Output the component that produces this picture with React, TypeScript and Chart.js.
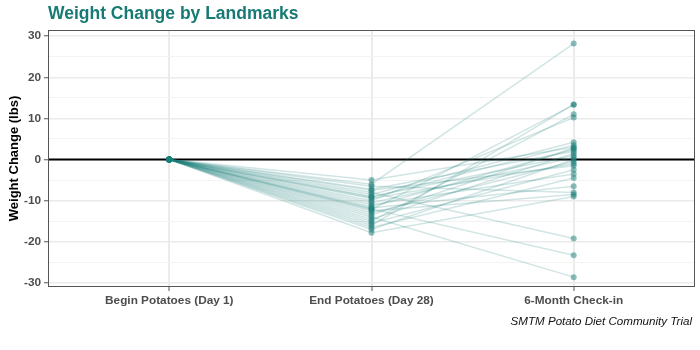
import React, { useEffect, useRef } from "react";
import { Chart, registerables } from "chart.js";

Chart.register(...registerables);

const title = "Weight Change by Landmarks";
const caption = "SMTM Potato Diet Community Trial";
const yAxisTitle = "Weight Change (lbs)";
const landmarks = ["Begin Potatoes (Day 1)", "End Potatoes (Day 28)", "6-Month Check-in"];
const yMajorTicks = [-30, -20, -10, 0, 10, 20, 30];
const yMinorTicks = [-25, -15, -5, 5, 15, 25];

const beginValues = [0, 0, 0, 0, 0, 0, 0, 0, 0, 0, 0, 0, 0, 0, 0, 0, 0, 0, 0, 0, 0, 0, 0, 0, 0, 0, 0, 0];
const endValues = [-5.0, -6.0, -6.5, -7.2, -8.0, -8.5, -9.0, -9.5, -10.0, -10.5, -11.0, -11.5, -12.0, -12.2, -12.5, -13.0, -14.0, -14.5, -15.0, -15.5, -16.0, -16.5, -17.0, -17.8, -11.8, -9.2, -7.5, -13.5];
const sixMonthValues = [3.0, 28.2, -8.0, 2.0, -19.2, 4.2, 1.0, -1.0, 10.2, 0.5, -3.5, 2.5, -23.3, 13.3, -8.5, -0.5, -28.6, 1.5, 11.0, -2.5, 13.4, -4.5, 0.0, -9.0, -6.5, 3.5, -1.5, 2.8];

const TEAL = "27,127,122";
const FONT = "'Liberation Sans', Arial, sans-serif";

export default function App() {
  const ref = useRef<HTMLCanvasElement | null>(null);

  useEffect(() => {
    if (!ref.current) return;
    document.body.style.margin = "0";

    const lineSets = endValues.map((e, i) => ({
      type: "line" as const,
      data: [
        { x: 0, y: beginValues[i] },
        { x: 1, y: e },
        { x: 2, y: sixMonthValues[i] },
      ],
      borderColor: `rgba(${TEAL},0.2)`,
      borderWidth: 1.5,
      pointRadius: 0,
      fill: false,
      tension: 0,
      order: 2,
    }));

    const points: { x: number; y: number }[] = [];
    endValues.forEach((e, i) => {
      points.push({ x: 0, y: beginValues[i] });
      points.push({ x: 1, y: e });
      points.push({ x: 2, y: sixMonthValues[i] });
    });

    const decor = {
      id: "decor",
      beforeDatasetsDraw(chart: any) {
        const { ctx, chartArea, scales } = chart;
        const y0 = scales.y.getPixelForValue(0);
        ctx.save();
        ctx.strokeStyle = "#000";
        ctx.lineWidth = 2;
        ctx.beginPath();
        ctx.moveTo(chartArea.left, y0);
        ctx.lineTo(chartArea.right, y0);
        ctx.stroke();
        ctx.restore();
      },
      afterDraw(chart: any) {
        const { ctx, chartArea } = chart;
        ctx.save();
        ctx.strokeStyle = "#555555";
        ctx.lineWidth = 1;
        ctx.strokeRect(chartArea.left + 0.5, chartArea.top + 0.5, chartArea.right - chartArea.left - 1, chartArea.bottom - chartArea.top - 1);
        ctx.fillStyle = "#177a74";
        ctx.font = `bold 17.5px ${FONT}`;
        ctx.textAlign = "left";
        ctx.textBaseline = "middle";
        ctx.fillText(title, chartArea.left, 14);
        ctx.fillStyle = "#111";
        ctx.font = `italic 11.6px ${FONT}`;
        ctx.textAlign = "right";
        ctx.fillText(caption, 692, 322);
        ctx.save();
        ctx.fillStyle = "#000";
        ctx.font = `bold 13px ${FONT}`;
        ctx.textAlign = "center";
        ctx.translate(14, (chartArea.top + chartArea.bottom) / 2);
        ctx.rotate(-Math.PI / 2);
        ctx.fillText(yAxisTitle, 0, 0);
        ctx.restore();
        ctx.restore();
      },
    };

    const chart = new Chart(ref.current, {
      type: "scatter",
      data: {
        datasets: [
          {
            type: "scatter" as const,
            data: points,
            backgroundColor: `rgba(${TEAL},0.5)`,
            borderColor: `rgba(${TEAL},0.5)`,
            borderWidth: 0,
            pointRadius: 3,
            order: 0,
          } as any,
          ...lineSets,
        ],
      },
      options: {
        animation: false,
        responsive: false,
        layout: { padding: { left: 0, right: 5, top: 30, bottom: 0 } },
        plugins: { legend: { display: false }, tooltip: { enabled: false }, title: { display: false } },
        scales: {
          x: {
            type: "linear",
            min: -0.6,
            max: 2.6,
            afterBuildTicks: (s: any) => {
              s.ticks = landmarks.map((_, i) => ({ value: i }));
            },
            afterFit: (s: any) => {
              s.height = 63;
            },
            ticks: {
              callback: (v: any) => landmarks[v as number] ?? "",
              color: "#4d4d4d",
              font: { family: FONT, size: 11.8, weight: "bold" },
              padding: 3,
              maxRotation: 0,
              autoSkip: false,
            },
            grid: {
              color: "#ebebeb",
              lineWidth: 2,
              tickLength: 4,
              tickColor: "#555555",
              tickWidth: 1,
            },
            border: { display: false },
          },
          y: {
            type: "linear",
            min: -31,
            max: 31.5,
            afterBuildTicks: (s: any) => {
              s.ticks = [...yMajorTicks, ...yMinorTicks].sort((a, b) => a - b).map((v) => ({ value: v }));
            },
            afterFit: (s: any) => {
              s.width = 48;
            },
            ticks: {
              callback: (v: any) => (yMajorTicks.includes(v as number) ? String(v) : ""),
              color: "#4d4d4d",
              font: { family: FONT, size: 11.8, weight: "bold" },
              padding: 3,
            },
            grid: {
              color: (c: any) => (yMajorTicks.includes(c.tick?.value) ? "#ebebeb" : "#f3f3f3"),
              lineWidth: (c: any) => (yMajorTicks.includes(c.tick?.value) ? 1.5 : 1),
              tickLength: 4,
              tickColor: (c: any) => (yMajorTicks.includes(c.tick?.value) ? "#555555" : "rgba(0,0,0,0)"),
              tickWidth: 1,
            },
            border: { display: false },
            title: { display: false },
          },
        },
      } as any,
      plugins: [decor],
    });

    return () => chart.destroy();
  }, []);

  return (
    <div style={{ position: "fixed", left: 0, top: 0, width: 700, height: 350 }}>
      <canvas ref={ref} width={700} height={350} style={{ width: 700, height: 350 }} />
    </div>
  );
}
